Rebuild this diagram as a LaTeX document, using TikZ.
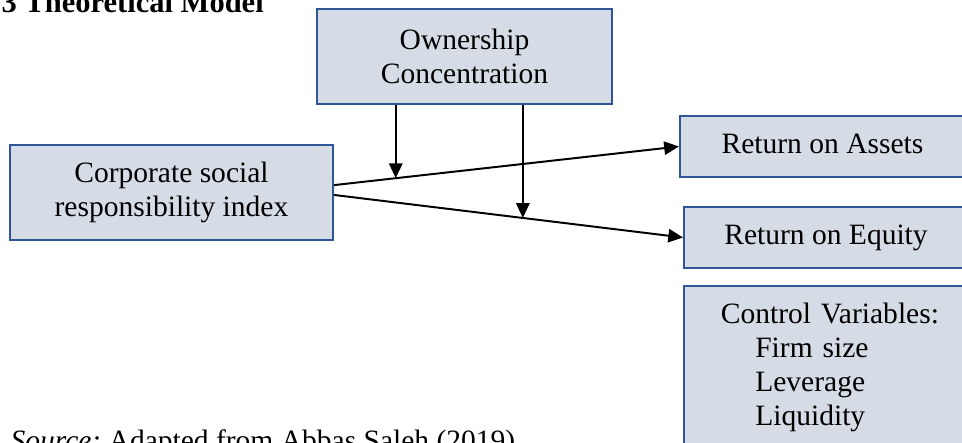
\documentclass[tikz,border=0pt]{standalone}
\usepackage{fontspec}
\setmainfont{Liberation Serif}
\usetikzlibrary{arrows.meta}
\definecolor{boxfill}{HTML}{D6DCE5}
\definecolor{boxline}{HTML}{2F5597}
\begin{document}
\begin{tikzpicture}[x=0.4065pt,y=-0.4065pt,
  box/.style={draw=boxline,fill=boxfill,line width=0.8pt,inner sep=0pt,align=center,font=\fontsize{12}{13.8}\selectfont},
  oneline/.style={text height=8.2pt,text depth=2.6pt},
  link/.style={line width=0.8pt,-{Triangle[length=6pt,width=5.4pt]}}]
\useasboundingbox (0,0) rectangle (962,443);
\clip (0,0) rectangle (962,443);

\node[anchor=base west,font=\fontsize{12.4}{14}\selectfont\bfseries] (title) at (-7,13) {3 Theoretical Model};

\node[box,minimum width=119.9pt,minimum height=38.6pt] (own) at (464.5,56.5) {Ownership\\Concentration};
\node[box,minimum width=131.3pt,minimum height=38.6pt] (csr) at (171.5,192.5) {Corporate social\\responsibility index};
\node[box,oneline,minimum width=115.9pt,minimum height=24.8pt] (roa) at (822.5,146.5) {Return on Assets};
\node[box,oneline,minimum width=115.4pt,minimum height=24.8pt] (roe) at (826,237.5) {Return on Equity};
\node[box,anchor=north west,align=left,text width=95pt,inner xsep=15pt,inner ysep=7pt] (ctrl) at (683,285)
  {Control Variables:\\ \hspace*{14pt}Firm size\\ \hspace*{14pt}Leverage\\ \hspace*{14pt}Liquidity};

% paths from CSR to the outcomes
\draw[link] ([yshift=3pt]csr.east) -- coordinate[pos=0.179] (m1) (roa.west);
\draw[link] ([yshift=-1pt]csr.east) -- coordinate[pos=0.541] (m2) (roe.west);

% moderating arrows
\draw[link] (own.south -| m1) -- (m1);
\draw[link] (own.south -| m2) -- (m2);

\node[anchor=base west,font=\fontsize{12}{13.8}\selectfont] (src) at (100,451) {\llap{\textit{Source:}\ }Adapted from Abbas Saleh (2019)};
\end{tikzpicture}
\end{document}
